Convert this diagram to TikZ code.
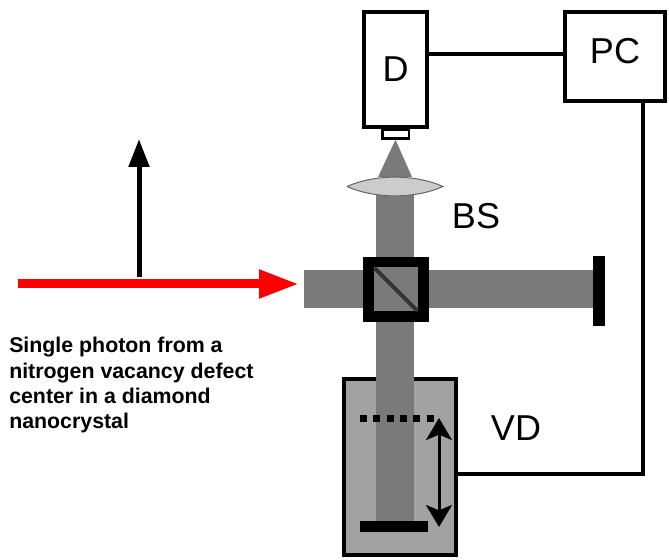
\documentclass[tikz,border=0pt]{standalone}
\usepackage{fontspec}
\setmainfont{Liberation Sans}
\usetikzlibrary{arrows.meta,positioning}
\definecolor{beamgray}{HTML}{7A7A7A}
\definecolor{stagegray}{HTML}{A2A2A2}
\definecolor{lensgray}{HTML}{CCCCCC}

\begin{document}
\begin{tikzpicture}[x=0.75pt, y=-0.75pt,
    box/.style={rectangle, draw, line width=3pt, fill=white, inner sep=0pt},
    bar/.style={rectangle, fill=black, inner sep=0pt},
    wire/.style={line width=3pt},
    beam/.style={draw=beamgray, line width=28.5pt},
    biglabel/.style={font=\fontsize{27}{30}\selectfont, inner sep=0pt}]
    \useasboundingbox (0,0) rectangle (669,560);

    % Nodes
    \node (detector) [box, minimum width=47.25pt, minimum height=86.25pt, font=\fontsize{27}{30}\selectfont] at (395.5,69.5) {D};
    \node (window) [box, line width=2pt, minimum width=20pt, minimum height=6.5pt, below=-0.5pt of detector] {};
    \node (pc) [box, minimum width=75pt, minimum height=66.75pt, font=\fontsize{27}{30}\selectfont, text depth=9pt] at (615,56.5) {PC};
    \node (vd) [box, fill=stagegray, minimum width=84pt, minimum height=132pt] at (400,467) {};
    \node (endmirror) [bar, minimum width=9pt, minimum height=52.5pt] at (599,291) {};
    \node (movingmirror) [bar, minimum width=51pt, minimum height=8.25pt] at (394,526.5) {};
    \coordinate (lens) at (395,186.5);
    \coordinate (beamin) at (304,289.5);
    \coordinate (redstart) at (18,284);
    \coordinate (redend) at (299,284);
    \coordinate (blackstart) at (139,277);
    \coordinate (blackend) at (139,139);
    \coordinate (dotleft) at (360,418);
    \coordinate (dotright) at (435,418);
    \coordinate (stagetop) at (439,418);
    \coordinate (stagebottom) at (439,527);

    % Beams
    \draw[beam] (beamin) -- (beamin -| endmirror.west);
    \draw[beam] (lens) -- (lens |- movingmirror.north);
    \fill[beamgray] (window.south) -- (378,177) -- (412,177) -- cycle;
    \draw[line width=0.75pt, draw=black!60, fill=lensgray] (347,186.5) .. controls (375,174) and (415,174) .. (443,186.5) .. controls (415,199) and (375,199) .. (347,186.5);

    % Beam splitter
    \node (bs) [box, fill=beamgray, line width=8pt, minimum width=41pt, minimum height=41pt] at (396,289.5) {};
    \draw[line width=3pt, draw=black!80] ([shift={(-21.5,-21.5)}]bs.center) -- ([shift={(21.5,21.5)}]bs.center);

    % Labels
    \node (bslabel) [biglabel] at (476,216) {BS};
    \node (vdlabel) [biglabel] at (516,428) {VD};
    \node (caption) [anchor=north west, inner sep=0pt, align=left, font=\fontsize{16}{19}\selectfont\bfseries] at (9,337) {Single photon from a\\nitrogen vacancy defect\\center in a diamond\\nanocrystal};

    % Arrows
    \draw[wire] ([yshift=1.9pt]pc.west) -- ([yshift=1.9pt]pc.west -| detector.east);
    \draw[wire] ([xshift=21pt]pc.south) |- ([yshift=-5.25pt]vd.east);
    \draw[line width=5.25pt, dash pattern=on 5.25pt off 4.75pt] (dotleft) -- (dotright);
    \draw[{Stealth[length=16.5pt,width=19.5pt,inset=4pt]}-{Stealth[length=16.5pt,width=19.5pt,inset=4pt]}, line width=2.25pt] (stagetop) -- (stagebottom);
    \draw[-{Triangle[length=21pt,width=15pt]}, line width=3.75pt] (blackstart) -- (blackend);
    \draw[-{Triangle[length=30pt,width=20pt]}, line width=6.75pt, red] (redstart) -- (redend);
\end{tikzpicture}
\end{document}
